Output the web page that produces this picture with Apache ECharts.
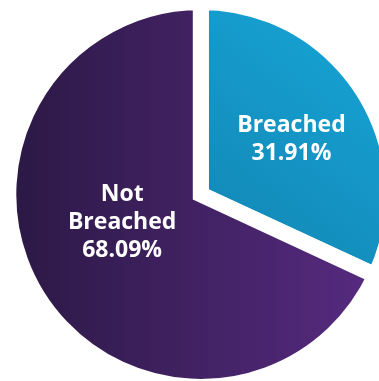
<!DOCTYPE html>
<html>
<head>
<meta charset="utf-8">
<script src="https://cdn.jsdelivr.net/npm/echarts@6/dist/echarts.min.js"></script>
<style>
html,body{margin:0;padding:0;background:#fff;}
#main{width:379px;height:381px;}
</style>
</head>
<body>
<div id="main"></div>
<script>
// Data
var categories = ['Breached', 'Not\nBreached'];
var values = [31.91, 68.09];

// Styles (kept separate from data)
var gradients = [
  new echarts.graphic.LinearGradient(1, 0, 0, 1, [
    {offset: 0, color: '#17a8db'},
    {offset: 1, color: '#1283b0'}
  ]),
  new echarts.graphic.LinearGradient(0, 0, 1, 0, [
    {offset: 0, color: '#2a1843'},
    {offset: 1, color: '#582b82'}
  ])
];
var labelOffsets = [[7, -2], [5, -25]];

var chart = echarts.init(document.getElementById('main'), null, {renderer: 'canvas'});
chart.setOption({
  backgroundColor: '#ffffff',
  animation: false,
  series: [{
    type: 'pie',
    center: [200.8, 194.4],
    radius: 192.5,
    startAngle: 90,
    clockwise: true,
    itemStyle: {
      borderColor: '#ffffff',
      borderWidth: 16,
      borderJoin: 'miter'
    },
    label: {
      position: 'inside',
      color: '#ffffff',
      fontFamily: 'Open Sans',
      fontWeight: 'bold',
      fontSize: 23,
      lineHeight: 28,
      align: 'center',
      formatter: function (p) { return p.name + '\n' + p.value.toFixed(2) + '%'; }
    },
    labelLine: {show: false},
    emphasis: {disabled: true},
    data: categories.map(function (c, i) {
      return {
        name: c,
        value: values[i],
        itemStyle: {color: gradients[i]},
        label: {offset: labelOffsets[i]}
      };
    })
  }]
});
</script>
</body>
</html>
